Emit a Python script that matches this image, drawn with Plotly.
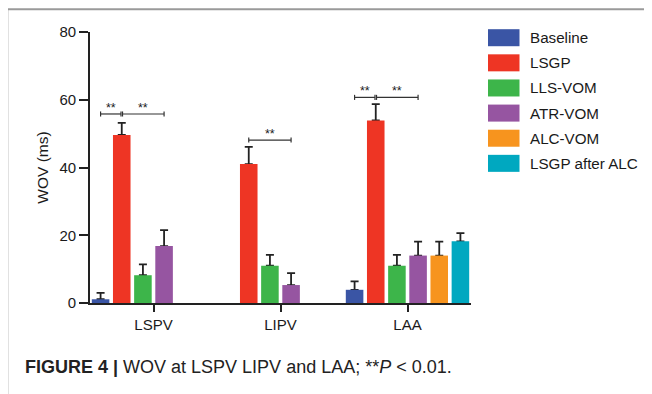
import plotly.graph_objects as go

categories = ["LSPV", "LIPV", "LAA"]
series = ["Baseline", "LSGP", "LLS-VOM", "ATR-VOM", "ALC-VOM", "LSGP after ALC"]
colors = ["#3A55A5", "#EE3524", "#3DB54A", "#9655A1", "#F7941E", "#00A8C0"]

baseline = [1.1, None, 3.9]
lsgp = [49.6, 41.0, 53.9]
lls_vom = [8.2, 11.0, 11.0]
atr_vom = [16.8, 5.3, 14.0]
alc_vom = [None, None, 14.0]
lsgp_after_alc = [None, None, 18.2]

baseline_err = [1.9, None, 2.5]
lsgp_err = [3.6, 5.1, 4.8]
lls_vom_err = [3.2, 3.2, 3.2]
atr_vom_err = [4.7, 3.5, 4.1]
alc_vom_err = [None, None, 4.1]
lsgp_after_alc_err = [None, None, 2.4]

values = [baseline, lsgp, lls_vom, atr_vom, alc_vom, lsgp_after_alc]
errors = [baseline_err, lsgp_err, lls_vom_err, atr_vom_err, alc_vom_err, lsgp_after_alc_err]

# significance brackets: (category index, from series index, to series index, y level)
sig_brackets = [(0, 0, 1, 55.8), (0, 1, 3, 55.8), (1, 1, 3, 48.1), (2, 0, 1, 60.7), (2, 1, 3, 60.7)]
sig_label = "**"

y_ticks = [0, 20, 40, 60, 80]
y_title = "WOV (ms)"
caption = "<b>FIGURE 4 |</b> WOV at LSPV LIPV and LAA; **<i>P</i> &lt; 0.01."

FONT = "Liberation Sans, Arial, Helvetica, sans-serif"
INK = "#1a1a1a"

# the page adds an 8px body margin, so the figure is drawn 8px smaller
OFF = 8
FIG_W, FIG_H = 652 - OFF, 394 - OFF

fig = go.Figure()
n = len(series)

# error bars (drawn underneath so the lower cap is hidden by the bar)
for i in range(n):
    fig.add_trace(go.Bar(
        x=categories, y=values[i], offsetgroup=str(i),
        marker=dict(color="rgba(0,0,0,0)", line=dict(width=0)),
        error_y=dict(type="data", symmetric=False, array=errors[i],
                     arrayminus=[0] * len(categories),
                     color="#222222", thickness=1.8, width=4),
        showlegend=False, hoverinfo="skip"))

for i in range(n):
    fig.add_trace(go.Bar(
        x=categories, y=values[i], offsetgroup=str(i), name=series[i],
        marker=dict(color=colors[i], line=dict(width=0)),
        showlegend=False))


def slot_x(ci, si):
    return ci + (si - (n - 1) / 2) / n


shapes = []
annotations = []
ends = {(c, b) for (c, a, b, y) in sig_brackets}
starts = {(c, a) for (c, a, b, y) in sig_brackets}
for (c, a, b, y) in sig_brackets:
    x0 = slot_x(c, a) + (0.006 if (c, a) in ends else 0)
    x1 = slot_x(c, b) - (0.006 if (c, b) in starts else 0)
    line = dict(color="#333333", width=1.2)
    shapes.append(dict(type="line", xref="x", yref="y", x0=x0, x1=x1, y0=y, y1=y, line=line))
    for xx in (x0, x1):
        shapes.append(dict(type="line", xref="x", yref="y", x0=xx, x1=xx, y0=y - 0.75, y1=y + 0.75, line=line))
    annotations.append(dict(x=(x0 + x1) / 2, y=y, xref="x", yref="y", text=sig_label,
                            showarrow=False, yanchor="bottom", yshift=-3,
                            font=dict(family=FONT, size=12.5, color=INK)))

# layout in screen pixels (reference coordinates), converted to paper units
L, W, T, H = 90.0, 381.0, 32.0, 270.7
def px(xp):
    return (xp - L) / W
def py(yp):
    return (T + H - yp) / H

for i in range(n):
    cy = 37.7 + 25.1 * i
    shapes.append(dict(type="rect", xref="paper", yref="paper",
                       x0=px(488), x1=px(519.5), y0=py(cy + 8.5), y1=py(cy - 8.5),
                       fillcolor=colors[i], line=dict(width=0)))
    annotations.append(dict(x=px(527.5), y=py(cy), xref="paper", yref="paper",
                            text=series[i], showarrow=False, xanchor="left", yanchor="middle",
                            font=dict(family=FONT, size=15.2, color=INK)))

# outer frame (top and left edges)
shapes.append(dict(type="line", xref="paper", yref="paper", x0=px(7.3), x1=px(670),
                   y0=py(9.3), y1=py(9.3), line=dict(color="#9a9a9a", width=2)))
shapes.append(dict(type="line", xref="paper", yref="paper", x0=px(7.3), x1=px(7.3),
                   y0=py(9.3), y1=py(410), line=dict(color="#9a9a9a", width=2)))

annotations.append(dict(x=px(22.5), y=py(367), xref="paper", yref="paper", text=caption,
                        showarrow=False, xanchor="left", yanchor="middle",
                        font=dict(family=FONT, size=18, color="#222222")))

fig.update_layout(
    width=FIG_W, height=FIG_H,
    margin=dict(l=L - OFF, r=FIG_W - (L + W - OFF), t=T - OFF, b=FIG_H - (T + H - OFF)),
    paper_bgcolor="white", plot_bgcolor="white",
    barmode="group", bargap=0, bargroupgap=0.17,
    showlegend=False,
    shapes=shapes, annotations=annotations,
    font=dict(family=FONT, color=INK, size=15),
    xaxis=dict(range=[-0.5, 2.5], showline=True, linecolor="#222222", linewidth=1.8,
               ticks="outside", ticklen=7, tickwidth=1.8, tickcolor="#222222",
               showgrid=False, zeroline=False,
               tickfont=dict(family=FONT, size=15, color=INK)),
    yaxis=dict(range=[0, 80], tickvals=y_ticks, showline=True, linecolor="#222222", linewidth=1.8,
               ticks="outside", ticklen=9, tickwidth=1.8, tickcolor="#222222",
               showgrid=False, zeroline=False,
               tickfont=dict(family=FONT, size=15, color=INK),
               title=dict(text=y_title, standoff=7, font=dict(family=FONT, size=15.5, color=INK))),
)

fig.write_html("out.html")
